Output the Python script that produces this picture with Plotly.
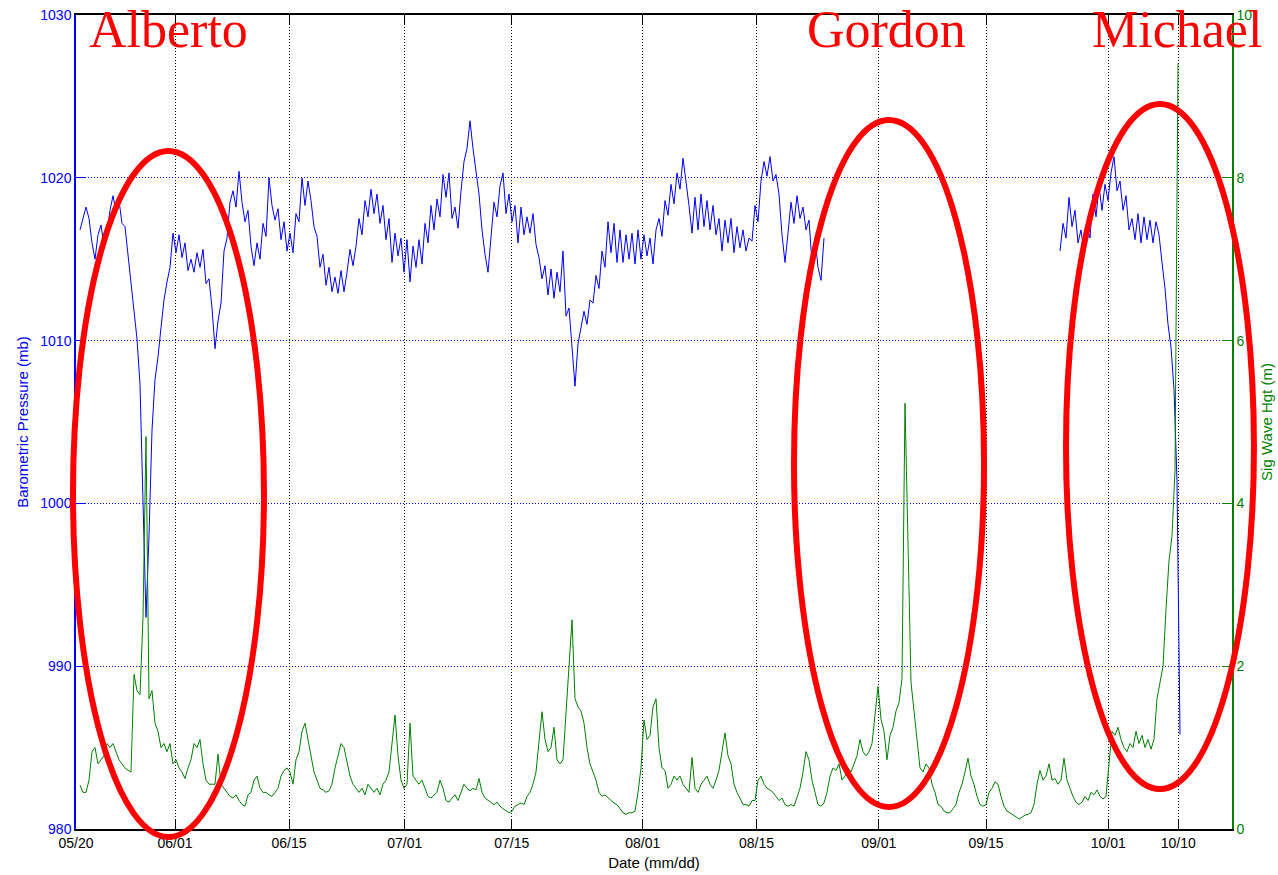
import numpy as np
import plotly.graph_objects as go

# ---------------- data ----------------
# time axis: days since 05/20 (samples every 0.39 day)
STEP = 0.39
P1_START = 0.52
P2_START = 127.92
G_START = 0.52

# Barometric pressure (mb), first segment (05/20 -> ~08/24)
pressure_seg1 = [
    1016.8, 1017.6, 1018.2, 1017.5, 1016.0, 1015.0, 1016.5, 1017.1, 1015.8, 1016.6,
    1018.0, 1018.9, 1017.9, 1018.6, 1017.2, 1017.0, 1015.2, 1013.5, 1012.0, 1010.1,
    1007.3, 1000.0, 993.0, 998.0, 1004.5, 1007.6, 1009.0, 1010.8, 1012.5, 1013.6,
    1014.5, 1016.6, 1015.4, 1016.5, 1015.1, 1016.0, 1014.3, 1015.0, 1014.2, 1015.4,
    1014.5, 1015.6, 1013.5, 1013.8, 1012.0, 1009.5, 1011.2, 1012.3, 1015.5, 1016.3,
    1018.5, 1019.2, 1018.2, 1020.4, 1018.5, 1017.3, 1018.0, 1015.8, 1014.6, 1016.0,
    1015.0, 1017.2, 1016.4, 1020.0, 1018.3, 1017.4, 1018.1, 1016.2, 1017.3, 1015.5,
    1016.6, 1015.4, 1017.8, 1017.3, 1020.0, 1018.3, 1019.8, 1018.6, 1017.0, 1016.4,
    1014.5, 1015.3, 1013.4, 1014.5, 1013.0, 1013.9, 1012.9, 1014.3, 1013.0, 1014.2,
    1015.6, 1014.6, 1015.8, 1017.5, 1016.5, 1018.6, 1017.6, 1019.3, 1017.8, 1019.0,
    1017.2, 1018.3, 1016.2, 1017.5, 1014.8, 1016.6, 1015.2, 1016.3, 1014.2, 1016.2,
    1013.6, 1015.8, 1014.5, 1016.2, 1014.7, 1017.2, 1016.0, 1018.3, 1016.8, 1018.7,
    1017.6, 1020.2, 1018.8, 1020.3, 1017.5, 1018.2, 1016.9, 1019.2, 1021.0, 1021.8,
    1023.5, 1021.8, 1020.2, 1019.0, 1016.8, 1015.3, 1014.2, 1016.5, 1018.5, 1017.6,
    1019.5, 1020.3, 1017.8, 1019.0, 1017.3, 1018.3, 1016.0, 1018.2, 1016.5, 1017.6,
    1016.6, 1017.8, 1015.9, 1015.1, 1013.8, 1014.6, 1012.8, 1014.4, 1012.6, 1014.2,
    1013.0, 1015.5, 1011.5, 1012.0, 1009.6, 1007.2, 1009.8, 1010.8, 1011.8, 1011.0,
    1012.5, 1012.3, 1014.0, 1013.2, 1015.5, 1014.5, 1017.3, 1015.4, 1017.2, 1014.8,
    1016.8, 1014.8, 1016.5, 1015.0, 1016.6, 1014.7, 1016.8, 1015.0, 1016.5, 1015.2,
    1016.3, 1014.7, 1016.8, 1017.5, 1016.4, 1018.6, 1017.7, 1019.6, 1018.4, 1020.3,
    1019.3, 1021.2, 1019.8, 1018.3, 1016.6, 1018.8, 1016.8, 1019.0, 1017.0, 1018.6,
    1016.8, 1018.3, 1016.5, 1017.5, 1015.5, 1017.4, 1016.0, 1017.5, 1015.4, 1017.0,
    1015.7, 1016.8, 1015.5, 1016.3, 1016.1, 1018.3, 1017.3, 1019.8, 1021.0, 1020.1,
    1021.3, 1019.8, 1020.2, 1019.0, 1016.5, 1014.8, 1016.6, 1018.5, 1017.2, 1018.9,
    1017.5, 1018.2, 1016.8, 1017.4, 1014.8, 1016.3, 1014.5, 1013.7, 1016.3,
]

# Barometric pressure (mb), second segment (~09/24 -> 10/10)
pressure_seg2 = [
    1015.5, 1017.2, 1016.3, 1018.8, 1017.0, 1018.0, 1016.0, 1016.8, 1015.4, 1017.0,
    1016.3, 1019.0, 1017.6, 1019.5, 1018.0, 1019.6, 1018.6, 1020.3, 1021.3, 1019.2,
    1019.8, 1018.0, 1018.9, 1016.8, 1017.5, 1016.2, 1017.8, 1016.0, 1017.6, 1016.2,
    1017.4, 1016.0, 1017.3, 1016.5, 1014.8, 1013.2, 1011.0, 1009.6, 1007.0, 1001.4,
    985.8,
]

# Significant wave height (m)
wave_height = [
    0.54, 0.45, 0.45, 0.6, 0.95, 1.0, 0.8, 0.85, 0.9, 1.05,
    1.0, 1.05, 0.95, 0.85, 0.8, 0.75, 0.72, 0.7, 1.9, 1.7,
    1.65, 2.6, 4.82, 1.6, 1.7, 1.3, 1.2, 1.0, 1.05, 0.95,
    1.05, 0.8, 0.85, 0.75, 0.7, 0.62, 0.75, 0.85, 1.05, 1.0,
    1.1, 0.8, 0.6, 0.55, 0.55, 0.55, 0.92, 0.55, 0.5, 0.45,
    0.4, 0.38, 0.42, 0.35, 0.3, 0.28, 0.42, 0.45, 0.6, 0.65,
    0.5, 0.45, 0.45, 0.42, 0.4, 0.45, 0.5, 0.65, 0.72, 0.75,
    0.7, 0.55, 0.85, 0.95, 1.2, 1.3, 1.1, 0.85, 0.7, 0.6,
    0.5, 0.48, 0.45, 0.47, 0.55, 0.75, 0.9, 1.05, 1.0, 0.8,
    0.65, 0.55, 0.5, 0.45, 0.5, 0.42, 0.55, 0.5, 0.45, 0.5,
    0.42, 0.55, 0.6, 0.7, 1.1, 1.4, 0.9, 0.6, 0.5, 0.55,
    1.3, 0.65, 0.6, 0.55, 0.6, 0.5, 0.4, 0.38, 0.42, 0.45,
    0.6, 0.5, 0.35, 0.33, 0.38, 0.42, 0.35, 0.45, 0.55, 0.5,
    0.47, 0.5, 0.48, 0.62, 0.45, 0.38, 0.35, 0.32, 0.3, 0.33,
    0.28, 0.25, 0.22, 0.2, 0.22, 0.28, 0.3, 0.32, 0.3, 0.4,
    0.45, 0.55, 0.7, 1.05, 1.44, 1.1, 0.95, 1.0, 1.25, 0.85,
    0.8, 0.85, 1.4, 2.0, 2.57, 1.6, 1.5, 1.45, 1.3, 1.0,
    0.8, 0.7, 0.6, 0.45, 0.4, 0.42, 0.38, 0.35, 0.32, 0.3,
    0.25, 0.2, 0.18, 0.2, 0.2, 0.22, 0.45, 0.75, 1.34, 1.1,
    1.15, 1.5, 1.6, 1.0, 0.75, 0.72, 0.5, 0.55, 0.65, 0.6,
    0.65, 0.55, 0.5, 0.45, 0.88, 0.5, 0.45, 0.55, 0.6, 0.65,
    0.55, 0.5, 0.6, 0.72, 0.95, 1.18, 0.9, 0.8, 0.55, 0.45,
    0.38, 0.3, 0.3, 0.28, 0.35, 0.35, 0.6, 0.65, 0.55, 0.5,
    0.48, 0.45, 0.4, 0.35, 0.38, 0.3, 0.28, 0.3, 0.28, 0.4,
    0.5, 0.7, 0.95, 0.85, 0.6, 0.45, 0.3, 0.28, 0.32, 0.45,
    0.65, 0.75, 0.72, 0.8, 0.6, 0.65, 0.75, 0.7, 0.8, 0.9,
    1.1, 0.95, 0.9, 0.95, 1.05, 1.45, 1.75, 1.35, 1.2, 0.85,
    1.15, 1.25, 1.45, 1.55, 1.85, 5.23, 3.6, 1.8, 1.45, 1.1,
    0.75, 0.7, 0.8, 0.75, 0.55, 0.45, 0.3, 0.28, 0.22, 0.2,
    0.2, 0.25, 0.3, 0.45, 0.55, 0.7, 0.87, 0.65, 0.55, 0.4,
    0.3, 0.28, 0.3, 0.45, 0.5, 0.58, 0.55, 0.4, 0.28, 0.22,
    0.2, 0.18, 0.15, 0.12, 0.15, 0.17, 0.18, 0.2, 0.3, 0.55,
    0.72, 0.6, 0.65, 0.8, 0.6, 0.62, 0.55, 0.6, 0.87, 0.6,
    0.5, 0.4, 0.33, 0.3, 0.33, 0.4, 0.35, 0.45, 0.42, 0.48,
    0.4, 0.37, 0.4, 0.85, 1.2, 1.15, 1.25, 1.1, 1.0, 0.95,
    1.05, 1.0, 1.2, 1.05, 1.15, 1.0, 1.1, 0.98, 1.1, 1.6,
    1.8, 2.0, 2.7, 3.3, 3.6, 4.4, 9.4,
]

# x tick positions (days since 05/20) and labels
tick_days = [0, 12.87, 27.69, 42.73, 56.64, 73.67, 88.47, 104.35, 118.30, 134.20, 143.30]
tick_labels = ["05/20", "06/01", "06/15", "07/01", "07/15", "08/01",
               "08/15", "09/01", "09/15", "10/01", "10/10"]
x_range = [0, 150.28]

storm_names = ["Alberto", "Gordon", "Michael"]

# ---------------- figure ----------------
t_p1 = P1_START + STEP * np.arange(len(pressure_seg1))
t_p2 = P2_START + STEP * np.arange(len(pressure_seg2))
t_g = G_START + STEP * np.arange(len(wave_height))

BLUE = "#0000FF"
GREEN = "#008000"
FONT = "Liberation Sans, Arial, sans-serif"

fig = go.Figure()
fig.add_trace(go.Scatter(x=np.concatenate([t_p1, [np.nan], t_p2]),
                         y=pressure_seg1 + [None] + pressure_seg2,
                         mode="lines", line=dict(color=BLUE, width=1),
                         connectgaps=False, showlegend=False, yaxis="y"))
fig.add_trace(go.Scatter(x=t_g, y=wave_height, mode="lines",
                         line=dict(color=GREEN, width=1),
                         showlegend=False, yaxis="y2"))

fig.update_layout(
    width=1278, height=875,
    margin=dict(l=76, r=46, t=15, b=46, autoexpand=False),
    paper_bgcolor="white", plot_bgcolor="white",
    font=dict(family=FONT, size=14, color="black"),
    xaxis=dict(range=x_range, tickmode="array", tickvals=tick_days, ticktext=tick_labels,
               showgrid=True, gridcolor="black", griddash="1px,2px", gridwidth=1,
               showline=True, linecolor="black", linewidth=1.5, mirror="ticks",
               ticks="inside", ticklen=10, tickcolor="black", zeroline=False,
               automargin=False,
               tickfont=dict(size=14, color="black"),
               title=dict(text="Date (mm/dd)", font=dict(size=15, color="black"), standoff=8)),
    yaxis=dict(range=[980, 1030], tickmode="linear", tick0=980, dtick=10,
               showgrid=True, gridcolor=BLUE, griddash="1px,2px", gridwidth=1,
               showline=True, linecolor=BLUE, linewidth=1.5,
               ticks="inside", ticklen=10, tickcolor=BLUE, zeroline=False,
               automargin=False,
               tickfont=dict(size=14, color=BLUE),
               title=dict(text="Barometric Pressure (mb)", font=dict(size=15, color=BLUE), standoff=8)),
    yaxis2=dict(range=[0, 10], tickmode="linear", tick0=0, dtick=2,
                overlaying="y", side="right", showgrid=False,
                showline=True, linecolor=GREEN, linewidth=1.5,
                ticks="inside", ticklen=10, tickcolor=GREEN, zeroline=False,
                automargin=False,
                tickfont=dict(size=14, color=GREEN),
                title=dict(text="Sig Wave Hgt (m)", font=dict(size=15, color=GREEN), standoff=10)),
)

# red ellipses (paper coordinates)
ellipses = [
    (-0.0026, -0.0098, 0.1626, 0.8329),
    (0.6211, 0.0270, 0.7855, 0.8710),
    (0.8564, 0.0491, 1.0190, 0.8907),
]
for x0, y0, x1, y1 in ellipses:
    fig.add_shape(type="circle", xref="paper", yref="paper",
                  x0=x0, y0=y0, x1=x1, y1=y1,
                  line=dict(color="red", width=6), layer="above")

label_x = [0.0804, 0.7007, 0.9520]
for name, lx in zip(storm_names, label_x):
    fig.add_annotation(text=name, xref="paper", yref="paper", x=lx, y=0.9816,
                       xanchor="center", yanchor="middle", showarrow=False,
                       font=dict(family="Liberation Serif, Times New Roman, serif",
                                 size=52, color="red"))

fig.write_html("out.html")
